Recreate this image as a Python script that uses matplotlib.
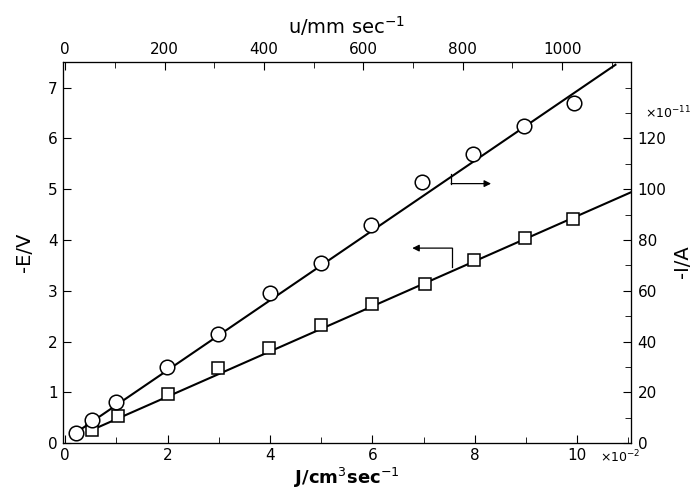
import matplotlib
matplotlib.use("Agg")
import matplotlib.pyplot as plt
from matplotlib.ticker import MultipleLocator

# -E/V (squares, left axis) vs J / 1e-2 cm^3 sec^-1
sq_j = [0.53, 1.03, 2.0, 2.98, 3.98, 4.99, 6.0, 7.02, 7.99, 8.99, 9.92]
sq_e = [0.26, 0.53, 0.96, 1.47, 1.88, 2.33, 2.74, 3.13, 3.60, 4.03, 4.42]
sq_fit_j = [0.5, 11.1]
sq_fit_e = [0.25, 4.96]

# -I/A (circles, right axis) in 1e-11 A
ci_j = [0.21, 0.53, 1.0, 1.99, 2.98, 4.0, 4.99, 5.98, 6.98, 7.97, 8.97, 9.94]
ci_i = [4, 9, 16, 30, 43, 59, 71, 86, 103, 114, 125, 134]
ci_fit_j = [0.2, 10.75]
ci_fit_i = [4, 149]

plt.rcParams["font.family"] = "DejaVu Sans"
plt.rcParams["font.size"] = 11

fig = plt.figure(figsize=(6.97, 4.94), dpi=100)
ax = fig.add_axes([0.09, 0.103, 0.815, 0.771])
ax.set_xlim(-0.05, 11.05)
ax.set_ylim(0, 7.5)

ax.plot(sq_fit_j, sq_fit_e, color="black", lw=1.5)
ax.plot(sq_j, sq_e, "s", ms=8, mfc="white", mec="black", mew=1.1)

ax.xaxis.set_major_locator(MultipleLocator(2))
ax.xaxis.set_minor_locator(MultipleLocator(1))
ax.yaxis.set_major_locator(MultipleLocator(1))
ax.tick_params(which="both", direction="in", top=False, right=False)
ax.tick_params(which="major", length=6)
ax.tick_params(which="minor", length=4)
ax.set_ylabel("-E/V", fontsize=14, labelpad=10)
ax.set_xlabel("J/cm$^3$sec$^{-1}$", fontsize=13, fontweight="bold", labelpad=2)
ax.text(0.945, -0.015, r"$\times10^{-2}$", transform=ax.transAxes, fontsize=9,
        ha="left", va="top")

# right axis for current
ax2 = ax.twinx()
ax2.set_ylim(0, 150)
ax2.plot(ci_fit_j, ci_fit_i, color="black", lw=1.5)
ax2.plot(ci_j, ci_i, "o", ms=10.5, mfc="white", mec="black", mew=1.1)
ax2.yaxis.set_major_locator(MultipleLocator(20))
ax2.yaxis.set_minor_locator(MultipleLocator(10))
ax2.set_yticks([0, 20, 40, 60, 80, 100, 120])
ax2.tick_params(which="both", direction="in")
ax2.tick_params(which="major", length=6, pad=5)
ax2.tick_params(which="minor", length=4)
fig.text(0.979, 0.47, "-I/A", fontsize=14, rotation=90, ha="center", va="center")
ax2.text(1.025, 0.845, r"$\times10^{-11}$", transform=ax.transAxes, fontsize=9,
         ha="left", va="bottom")

# top axis for linear velocity
ax3 = ax.twiny()
ax3.set_xlim(-0.05 * 103, 11.05 * 103)
ax3.xaxis.set_major_locator(MultipleLocator(200))
ax3.xaxis.set_minor_locator(MultipleLocator(100))
ax3.tick_params(which="both", direction="in")
ax3.tick_params(which="major", length=6)
ax3.tick_params(which="minor", length=4)
ax3.set_xlabel("u/mm sec$^{-1}$", fontsize=14, labelpad=6)

# arrows showing which axis each line belongs to
ax.plot([7.54, 7.54], [5.29, 5.11], color="black", lw=0.9)
ax.annotate("", xy=(8.32, 5.11), xytext=(7.54, 5.11),
            arrowprops=dict(arrowstyle="-|>", color="black", lw=0.9,
                            shrinkA=0, shrinkB=0, mutation_scale=10))
ax.plot([7.56, 7.56], [3.47, 3.84], color="black", lw=0.9)
ax.annotate("", xy=(6.78, 3.84), xytext=(7.56, 3.84),
            arrowprops=dict(arrowstyle="-|>", color="black", lw=0.9,
                            shrinkA=0, shrinkB=0, mutation_scale=10))

fig.savefig("out.png", dpi=100)
